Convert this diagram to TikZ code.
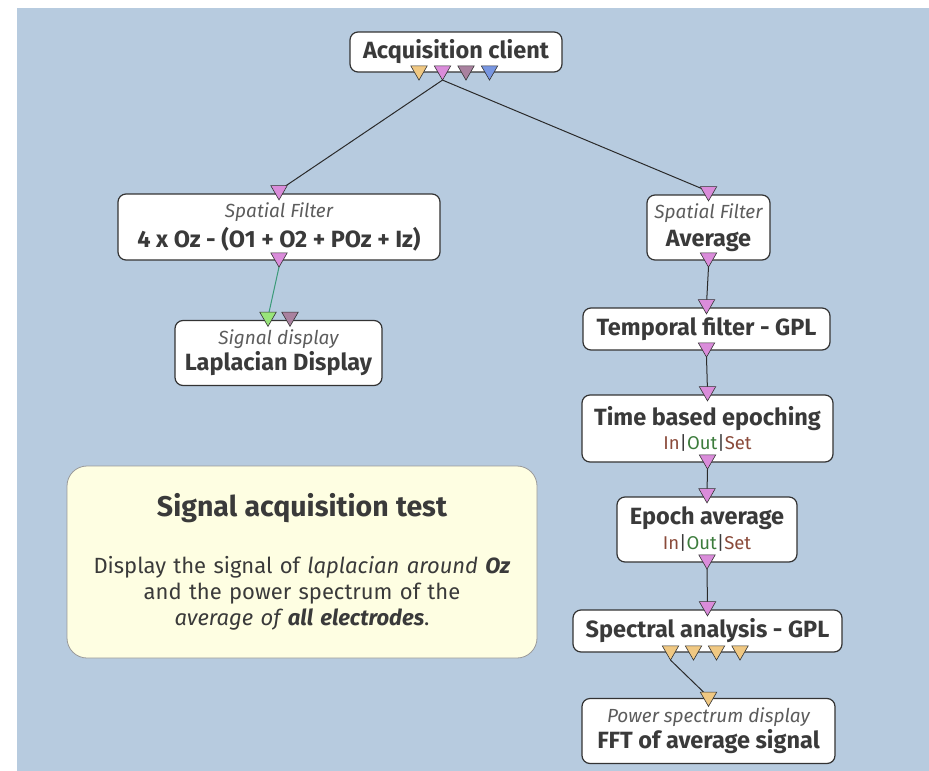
\documentclass[tikz,border=0pt]{standalone}
\usepackage{fontspec}
\setmainfont{Fira Sans}
\usetikzlibrary{shapes.geometric,backgrounds}

\definecolor{canvas}{HTML}{B7CBDF}
\definecolor{boxline}{HTML}{333333}
\definecolor{boxtext}{HTML}{3A3A3A}
\definecolor{typetext}{HTML}{5C5C5C}
\definecolor{notefill}{HTML}{FEFEE2}
\definecolor{noteline}{HTML}{9A9A9A}
\definecolor{sigpink}{HTML}{DA8CDA}
\definecolor{specyel}{HTML}{F0C882}
\definecolor{stimmauve}{HTML}{A9819F}
\definecolor{chanblue}{HTML}{7896E1}
\definecolor{ingreen}{HTML}{98E47A}
\definecolor{linkdark}{HTML}{2A2A2A}
\definecolor{linkgreen}{HTML}{3A9A78}
\definecolor{setred}{HTML}{8A4A3A}
\definecolor{outgreen}{HTML}{3C7C3C}

\newcommand{\boxtype}[1]{{\mdseries\itshape\color{typetext}\fontsize{19}{22}\selectfont #1}}
\newcommand{\ioset}{{\mdseries\fontsize{18.5}{22}\selectfont{\color{setred}In}|{\color{outgreen}Out}|{\color{setred}Set}}}

\begin{document}
\begin{tikzpicture}[x=1pt, y=-1pt,
  box/.style={rectangle, rounded corners=8pt, draw=boxline, line width=1.2pt, fill=white,
    align=center, text=boxtext, inner sep=2pt, font=\fontsize{23.5}{30}\selectfont\bfseries},
  port/.style={regular polygon, regular polygon sides=3, shape border rotate=180,
    minimum size=19pt, inner sep=0pt, outer sep=0pt, draw=boxline, line width=0.6pt},
  link/.style={draw=linkdark, line width=1pt}]

\begin{scope}[on background layer]
\useasboundingbox (0,0) rectangle (929,771);
\fill[white] (0,0) rectangle (929,771);
\fill[canvas] (17,8) rectangle (929,771);
\end{scope}

\node[box, minimum width=212pt, minimum height=40pt] (acq) at (456,52) {Acquisition client};
\node[box, minimum width=322pt, minimum height=66pt] (sfl) at (279,227) {\boxtype{Spatial Filter}\\4 x Oz - (O1 + O2 + POz + Iz)};
\node[box, minimum width=207pt, minimum height=65pt, font=\fontsize{23.5}{26}\selectfont\bfseries] (lap) at (278.5,353) {\boxtype{Signal display}\\Laplacian Display};
\node[box, minimum width=123pt, minimum height=65pt, font=\fontsize{23.5}{28}\selectfont\bfseries] (sfa) at (708.5,227.5) {\boxtype{Spatial Filter}\\Average};
\node[box, minimum width=247pt, minimum height=42pt] (tmp) at (706.5,329) {Temporal filter - GPL};
\node[box, minimum width=251pt, minimum height=67pt, font=\fontsize{23.5}{24}\selectfont\bfseries] (tbe) at (707.5,428.5) {Time based epoching\\\ioset};
\node[box, minimum width=180pt, minimum height=65pt, font=\fontsize{23.5}{25}\selectfont\bfseries] (eav) at (707,529.5) {Epoch average\\\ioset};
\node[box, minimum width=269pt, minimum height=42pt] (spa) at (707.5,631) {Spectral analysis - GPL};
\node[box, minimum width=253pt, minimum height=65pt, font=\fontsize{23.5}{26}\selectfont\bfseries] (psd) at (708.5,731) {\boxtype{Power spectrum display}\\FFT of average signal};

\node[rectangle, rounded corners=20pt, draw=noteline, line width=0.8pt, fill=notefill,
  minimum width=470pt, minimum height=192pt, text width=460pt, align=center, text=boxtext,
  font=\fontsize{22}{26}\selectfont] (note) at (302,562)
  {{\fontsize{28.5}{30}\selectfont\bfseries Signal acquisition test}\\[31pt]
   Display the signal of \textit{laplacian around \textbf{Oz}}\\
   and the power spectrum of the\\
   \textit{average of \textbf{all electrodes}}.};

\node[port, fill=specyel] (acqo1) at ([xshift=-37pt,yshift=2pt]acq.south) {};
\node[port, fill=sigpink] (acqo2) at ([xshift=-13.5pt,yshift=2pt]acq.south) {};
\node[port, fill=stimmauve] (acqo3) at ([xshift=10pt,yshift=2pt]acq.south) {};
\node[port, fill=chanblue] (acqo4) at ([xshift=33.5pt,yshift=2pt]acq.south) {};

\node[port, fill=sigpink] (sflin) at ([yshift=3pt]sfl.north) {};
\node[port, fill=sigpink] (sflout) at ([yshift=3pt]sfl.south) {};
\node[port, fill=ingreen] (lapin1) at ([xshift=-10.5pt,yshift=3pt]lap.north) {};
\node[port, fill=stimmauve] (lapin2) at ([xshift=11.5pt,yshift=3pt]lap.north) {};

\node[port, fill=sigpink] (sfain) at ([yshift=3pt]sfa.north) {};
\node[port, fill=sigpink] (sfaout) at ([yshift=3pt]sfa.south) {};
\node[port, fill=sigpink] (tmpin) at ([yshift=3pt]tmp.north) {};
\node[port, fill=sigpink] (tmpout) at ([yshift=3pt]tmp.south) {};
\node[port, fill=sigpink] (tbein) at ([yshift=3pt]tbe.north) {};
\node[port, fill=sigpink] (tbeout) at ([yshift=3pt]tbe.south) {};
\node[port, fill=sigpink] (eavin) at ([yshift=3pt]eav.north) {};
\node[port, fill=sigpink] (eavout) at ([yshift=3pt]eav.south) {};
\node[port, fill=sigpink] (spain) at ([yshift=3pt]spa.north) {};
\node[port, fill=specyel] (spao1) at ([xshift=-37pt,yshift=2pt]spa.south) {};
\node[port, fill=specyel] (spao2) at ([xshift=-14pt,yshift=2pt]spa.south) {};
\node[port, fill=specyel] (spao3) at ([xshift=9pt,yshift=2pt]spa.south) {};
\node[port, fill=specyel] (spao4) at ([xshift=32.5pt,yshift=2pt]spa.south) {};
\node[port, fill=specyel] (psdin) at ([yshift=1pt]psd.north) {};

\begin{scope}[on background layer]
\draw[link] (acqo2.corner 1) -- (sflin.center);
\draw[link] (acqo2.corner 1) -- (sfain.center);
\draw[link, draw=linkgreen] (sflout.corner 1) -- (lapin1.center);
\draw[link] (sfaout.corner 1) -- (tmpin.center);
\draw[link] (tmpout.corner 1) -- (tbein.center);
\draw[link] (tbeout.corner 1) -- (eavin.center);
\draw[link] (eavout.corner 1) -- (spain.center);
\draw[link] (spao1.corner 1) -- (psdin.center);
\end{scope}
\end{tikzpicture}
\end{document}
